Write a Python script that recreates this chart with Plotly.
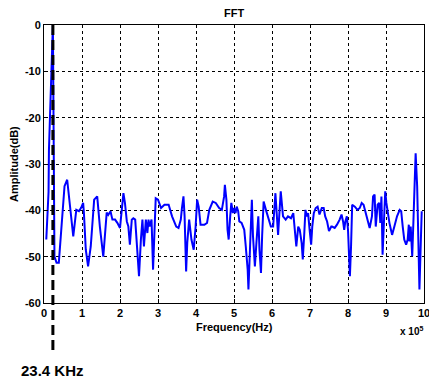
import plotly.graph_objects as go

# Frequency in units of 1e5 Hz, amplitude in dB
freq = [0.06, 0.12, 0.13, 0.17, 0.20, 0.234, 0.275, 0.33, 0.39, 0.48, 0.54, 0.61, 0.68, 0.77,
        0.85, 0.92, 0.98, 1.03, 1.05, 1.10, 1.16, 1.23, 1.32, 1.40, 1.47, 1.56, 1.65, 1.69,
        1.75, 1.80, 1.87, 1.93, 2.00, 2.04, 2.09, 2.13, 2.18, 2.22, 2.26, 2.31, 2.35, 2.40,
        2.44, 2.50, 2.55, 2.59, 2.63, 2.68, 2.72, 2.75, 2.78, 2.83, 2.87, 2.90, 2.94, 3.00,
        3.08, 3.17, 3.28, 3.37, 3.48, 3.54, 3.60, 3.63, 3.67, 3.70, 3.74, 3.77, 3.82, 3.88,
        3.94, 3.99, 4.03, 4.07, 4.12, 4.22, 4.29, 4.35, 4.44, 4.52, 4.61, 4.68, 4.74, 4.76,
        4.80, 4.83, 4.86, 4.90, 4.93, 4.97, 5.00, 5.04, 5.07, 5.11, 5.14, 5.20, 5.27, 5.31,
        5.36, 5.38, 5.41, 5.43, 5.47, 5.50, 5.55, 5.59, 5.64, 5.67, 5.71, 5.74, 5.78, 5.84,
        5.91, 5.97, 6.03, 6.09, 6.16, 6.23, 6.29, 6.36, 6.42, 6.50, 6.56, 6.60, 6.64, 6.69,
        6.73, 6.78, 6.81, 6.85, 6.88, 6.92, 6.95, 6.99, 7.03, 7.06, 7.10, 7.15, 7.20, 7.25,
        7.31, 7.36, 7.40, 7.45, 7.50, 7.56, 7.58, 7.65, 7.71, 7.78, 7.83, 7.87, 7.90, 7.93,
        7.97, 8.00, 8.02, 8.05, 8.08, 8.11, 8.18, 8.25, 8.31, 8.36, 8.41, 8.46, 8.52, 8.57,
        8.63, 8.66, 8.70, 8.73, 8.78, 8.82, 8.85, 8.88, 8.91, 8.94, 8.98, 9.01, 9.05, 9.09,
        9.13, 9.16, 9.22, 9.29, 9.36, 9.40, 9.44, 9.48, 9.53, 9.57, 9.60, 9.62, 9.65, 9.69,
        9.72, 9.75, 9.78, 9.82, 9.85, 9.88, 9.91, 9.94]
amp_db = [-46.3, -36.0, -27.0, -18.0, -9.0, 0.0, -50.0, -51.3, -51.3, -41.3, -34.8, -33.4, -39.2, -45.6,
          -39.9, -40.2, -39.4, -38.4, -40.5, -48.5, -52.1, -47.8, -37.7, -37.0, -43.5, -50.0, -40.5, -41.0,
          -40.2, -42.0, -42.0, -42.7, -43.8, -40.5, -36.3, -38.4, -42.4, -43.5, -47.4, -42.0, -41.7, -42.0,
          -47.0, -54.2, -46.3, -42.0, -47.8, -42.0, -44.9, -42.0, -43.5, -42.0, -52.8, -44.4, -37.4, -37.7,
          -39.5, -38.8, -38.8, -41.3, -43.5, -43.8, -42.0, -39.5, -37.0, -41.3, -53.2, -47.0, -42.0, -46.3,
          -48.5, -43.5, -37.7, -39.2, -43.1, -43.1, -42.7, -39.9, -38.1, -38.4, -39.5, -39.9, -37.0, -34.5,
          -37.7, -44.2, -46.3, -41.3, -38.4, -40.6, -39.5, -40.6, -39.2, -40.2, -42.4, -42.7, -44.2, -47.8,
          -52.8, -57.1, -50.6, -44.9, -37.7, -45.6, -52.1, -47.0, -41.3, -48.5, -53.5, -45.6, -38.1, -39.9,
          -42.0, -43.5, -43.5, -36.3, -45.3, -35.9, -41.3, -42.0, -41.3, -41.7, -40.6, -43.5, -47.8, -43.5,
          -44.2, -47.0, -50.6, -44.9, -39.9, -41.3, -40.6, -44.2, -47.4, -43.5, -40.6, -39.5, -39.2, -40.9,
          -39.5, -39.5, -41.3, -42.4, -44.5, -43.5, -43.5, -43.8, -43.1, -42.0, -40.9, -42.4, -44.2, -42.4,
          -41.3, -44.2, -48.5, -54.2, -47.8, -38.8, -39.2, -39.9, -39.5, -38.4, -38.8, -40.2, -42.4, -43.8,
          -41.3, -37.0, -36.6, -43.5, -38.8, -38.4, -42.7, -37.0, -49.6, -42.4, -35.9, -38.4, -40.9, -42.7,
          -44.2, -45.3, -43.5, -41.3, -39.9, -40.2, -43.5, -46.3, -47.4, -46.3, -43.1, -46.7, -43.5, -49.9,
          -42.7, -32.0, -27.7, -34.8, -49.9, -57.1, -48.5, -40.2]

x_ticks = [0, 1, 2, 3, 4, 5, 6, 7, 8, 9, 10]
x_tick_labels = ["0", "1", "2", "3", "4", "5", "6", "7", "8", "9", "10"]
y_ticks = [0, -10, -20, -30, -40, -50, -60]
y_tick_labels = ["0", "-10", "-20", "-30", "-40", "-50", "-60"]

marker_freq = 0.234  # 23.4 kHz in units of 1e5 Hz
marker_label = "23.4 KHz"

FONT = "Liberation Sans, Arial, sans-serif"

fig = go.Figure()
fig.add_trace(go.Scatter(x=freq, y=amp_db, mode="lines",
                         line=dict(color="#0000FF", width=2), showlegend=False,
                         hoverinfo="skip"))

fig.add_shape(type="line", xref="x", yref="paper", x0=marker_freq, x1=marker_freq,
              y0=1.0, y1=-0.18, line=dict(color="black", width=3, dash="10px,5px"),
              layer="above")

axis_common = dict(showline=True, linecolor="black", linewidth=1, mirror=True,
                   showgrid=True, gridcolor="black", griddash="dot", gridwidth=1,
                   ticks="inside", ticklen=4, tickcolor="black", zeroline=False,
                   ticklabeloverflow="allow", automargin=False,
                   tickfont=dict(family=FONT, size=11, color="black", weight="bold"))

fig.update_xaxes(range=[0, 10], tickvals=x_ticks, ticktext=x_tick_labels, **axis_common)
fig.update_yaxes(range=[-60, 0], tickvals=y_ticks, ticktext=y_tick_labels, **axis_common)

fig.update_layout(
    width=429, height=380,
    margin=dict(l=44, r=5, t=25, b=77, autoexpand=False),
    paper_bgcolor="white", plot_bgcolor="white",
    font=dict(family=FONT, color="black"),
    annotations=[
        dict(text="FFT", xref="paper", yref="paper", x=0.5, y=1.0, yshift=12,
             showarrow=False, font=dict(family=FONT, size=11, weight="bold"),
             xanchor="center", yanchor="middle"),
        dict(text="Frequency(Hz)", xref="paper", yref="paper", x=0.5, y=0, yshift=-24,
             showarrow=False, font=dict(family=FONT, size=11, weight="bold"),
             xanchor="center", yanchor="middle"),
        dict(text="Amplitude(dB)", xref="paper", yref="paper", x=0, xshift=-30, y=0.5,
             textangle=-90, showarrow=False, font=dict(family=FONT, size=11, weight="bold"),
             xanchor="center", yanchor="middle"),
        dict(text="x 10<sup>5</sup>", xref="paper", yref="paper", x=0.968, y=0, yshift=-28,
             showarrow=False, font=dict(family=FONT, size=10, weight="bold"),
             xanchor="center", yanchor="middle"),
        dict(text=marker_label, xref="x", yref="paper", x=marker_freq, y=0, yshift=-67,
             showarrow=False, font=dict(family=FONT, size=15, weight="bold"),
             xanchor="center", yanchor="middle"),
    ],
)

fig.write_html(
    "out.html",
    config={"displayModeBar": False},
    post_script=(
        "document.documentElement.style.margin='0';"
        "document.body.style.margin='0';"
        "document.documentElement.style.overflow='hidden';"
        "document.body.style.overflow='hidden';"
    ),
)
